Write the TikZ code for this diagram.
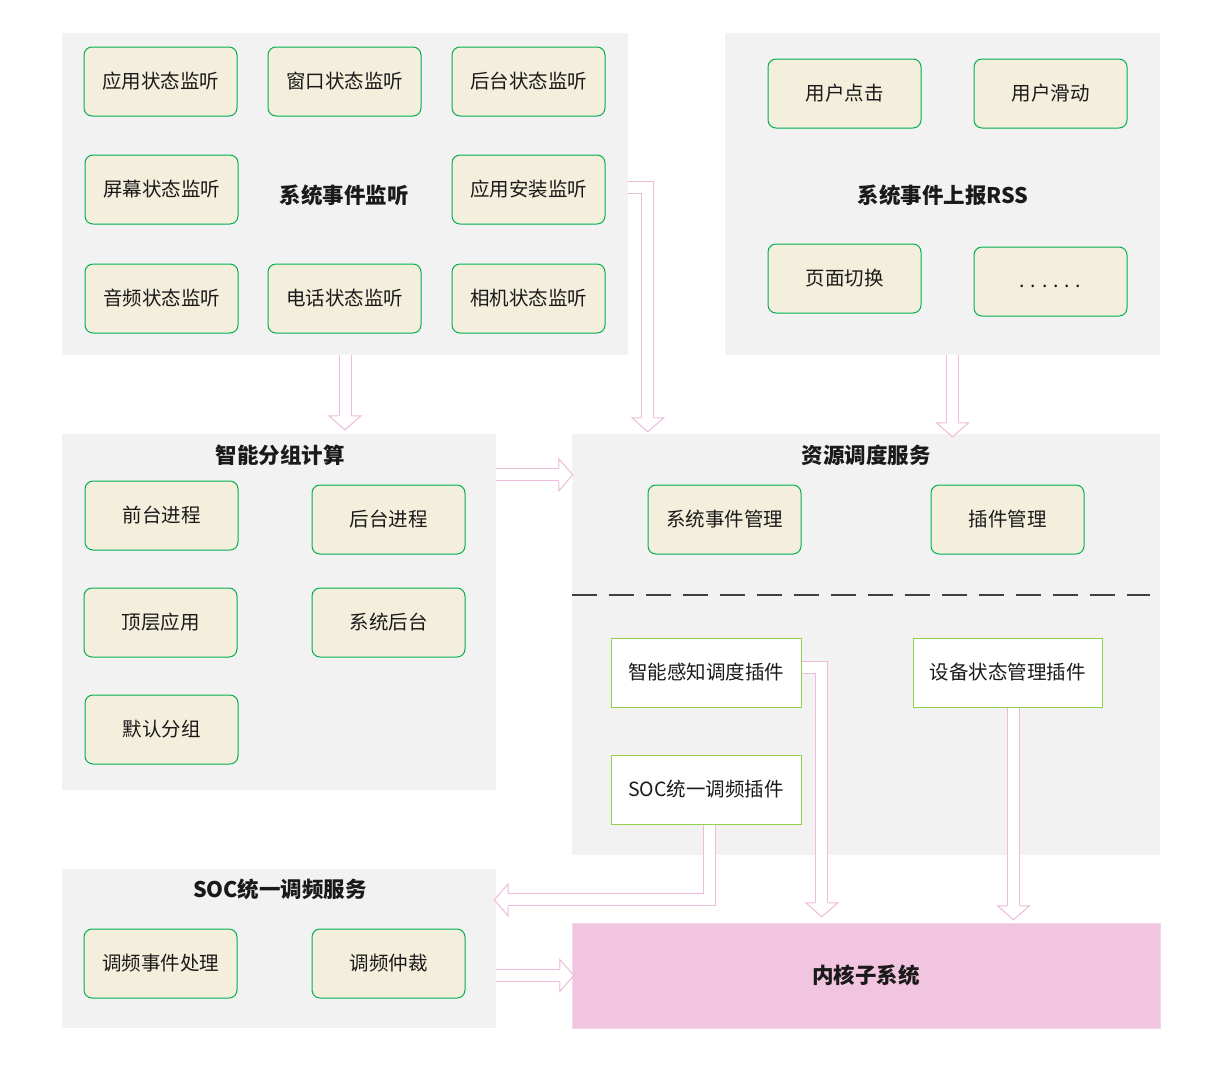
\documentclass[tikz,border=0pt]{standalone}
\usepackage{fontspec}
\setmainfont{Noto Sans CJK SC}
\usetikzlibrary{calc}
\definecolor{panelgray}{HTML}{F2F2F2}
\definecolor{cardfill}{HTML}{F4EEDC}
\definecolor{cardline}{HTML}{00B050}
\definecolor{plugline}{HTML}{92D050}
\definecolor{arrowpink}{HTML}{EEBBDA}
\definecolor{kernfill}{HTML}{F1C4DF}
\definecolor{dashgray}{HTML}{404040}
\definecolor{textdark}{HTML}{1A1A1A}
\newcommand{\hollowhead}[2]{%
  \path[draw=arrowpink, fill=white, line width=1pt]
    ($(#2)!14pt!(#1)$) coordinate (hb)
    ($(hb)!6.5pt!90:(#2)$) -- ($(hb)!16pt!90:(#2)$) -- (#2)
    -- ($(hb)!16pt!-90:(#2)$) -- ($(hb)!6.5pt!-90:(#2)$);
}
\begin{document}
\begin{tikzpicture}[x=1pt, y=-1pt, text=textdark,
  panel/.style={rectangle, fill=panelgray, inner sep=0pt},
  card/.style={rectangle, rounded corners=8pt, draw=cardline, fill=cardfill, line width=1pt,
    minimum width=153pt, minimum height=69pt, inner sep=0pt, font=\fontsize{19.5}{22}\selectfont},
  plugin/.style={rectangle, draw=plugline, fill=white, line width=1pt,
    minimum width=190pt, minimum height=69pt, inner sep=0pt, font=\fontsize{19.5}{22}\selectfont},
  heading/.style={font=\fontsize{21.5}{24}\selectfont\bfseries},
  shaft/.style={draw=arrowpink, line width=1pt, double=white, double distance=11pt}]
\useasboundingbox[fill=white] (0,0) rectangle (1212,1069);

\node[panel, minimum width=566pt, minimum height=322pt] (evt) at (345,194) {};
\node[panel, minimum width=435pt, minimum height=322pt] (rss) at (942.5,194) {};
\node[panel, minimum width=434pt, minimum height=356pt] (grp) at (279,612) {};
\node[panel, minimum width=588pt, minimum height=421pt] (res) at (866,644.5) {};
\node[panel, minimum width=434pt, minimum height=159pt] (soc) at (279,948.5) {};
\node[rectangle, fill=kernfill, draw=kernfill!70!white, minimum width=588pt, minimum height=105pt,
  heading] (kern) at (866,975.5) {内核子系统};

\node[heading] (evttitle) at (344,195) {系统事件监听};
\node[heading] (rsstitle) at (943,195) {系统事件上报RSS};
\node[heading] (grptitle) at (280,455) {智能分组计算};
\node[heading] (restitle) at (866,455) {资源调度服务};
\node[heading] (soctitle) at (280,889) {SOC统一调频服务};

\node[card] (app1) at (160.5,81.5) {应用状态监听};
\node[card] (app2) at (344.5,81.5) {窗口状态监听};
\node[card] (app3) at (528.5,81.5) {后台状态监听};
\node[card] (app4) at (161.5,189.5) {屏幕状态监听};
\node[card] (app5) at (528.5,189.5) {应用安装监听};
\node[card] (app6) at (161.5,298.5) {音频状态监听};
\node[card] (app7) at (344.5,298.5) {电话状态监听};
\node[card] (app8) at (528.5,298.5) {相机状态监听};

\node[card] (user1) at (844.5,93.5) {用户点击};
\node[card] (user2) at (1050.5,93.5) {用户滑动};
\node[card] (user3) at (844.5,278.5) {页面切换};
\node[card, text height=12pt, text depth=0pt] (user4) at (1050.5,281.5) {. . . . . .};

\node[card] (proc1) at (161.5,515.5) {前台进程};
\node[card] (proc2) at (388.5,519.5) {后台进程};
\node[card] (proc3) at (160.5,622.5) {顶层应用};
\node[card] (proc4) at (388.5,622.5) {系统后台};
\node[card] (proc5) at (161.5,729.5) {默认分组};

\node[card] (mgr1) at (724.5,519.5) {系统事件管理};
\node[card] (mgr2) at (1007.5,519.5) {插件管理};
\draw[dashgray, line width=2.2pt, dash pattern=on 25pt off 12pt]
  ($(res.north west)+(0,161)$) -- ($(res.north east)+(-10,161)$);
\node[plugin] (plug1) at (706,672.5) {智能感知调度插件};
\node[plugin, minimum width=189pt] (plug2) at (1007.5,672.5) {设备状态管理插件};
\node[plugin] (plug3) at (706,789.5) {SOC统一调频插件};

\node[card] (freq1) at (160.5,963.5) {调频事件处理};
\node[card] (freq2) at (388.5,963.5) {调频仲裁};

\coordinate (e1s) at (evt.south);
\coordinate (e1t) at ($(evt.south |- res.north)+(0,-4)$);
\draw[shaft] (e1s) -- ($(e1t)!14pt!(e1s)$);
\hollowhead{e1s}{e1t}

\coordinate (e2s) at ($(grp.north east)+(0,41)$);
\coordinate (e2t) at ($(e2s -| res.west)+(1,0)$);
\draw[shaft] (e2s) -- ($(e2t)!14pt!(e2s)$);
\hollowhead{e2s}{e2t}

\coordinate (e3s) at ($(evt.east |- app5.east)+(0,-2)$);
\coordinate (e3t) at ($(res.north west)+(76,-2)$);
\coordinate (e3c) at (e3s -| e3t);
\draw[shaft] (e3s) -- (e3c) -- ($(e3t)!14pt!(e3c)$);
\hollowhead{e3c}{e3t}

\coordinate (e4s) at ($(rss.south)+(10,0)$);
\coordinate (e4t) at ($(e4s |- res.north)+(0,3)$);
\draw[shaft] (e4s) -- ($(e4t)!14pt!(e4s)$);
\hollowhead{e4s}{e4t}

\coordinate (e5s) at ($(plug1.east)+(0,-5)$);
\coordinate (e5t) at ($(kern.north west)+(250,-6)$);
\coordinate (e5c) at (e5s -| e5t);
\draw[shaft] (e5s) -- (e5c) -- ($(e5t)!14pt!(e5c)$);
\hollowhead{e5c}{e5t}

\coordinate (e6s) at ($(plug3.south)+(3.5,0)$);
\coordinate (e6t) at ($(soc.north east)+(-2,31)$);
\coordinate (e6c) at (e6s |- e6t);
\draw[shaft] (e6s) -- (e6c) -- ($(e6t)!14pt!(e6c)$);
\hollowhead{e6c}{e6t}

\coordinate (e7s) at ($(plug2.south)+(6,0)$);
\coordinate (e7t) at ($(e7s |- kern.north)+(0,-3)$);
\draw[shaft] (e7s) -- ($(e7t)!14pt!(e7s)$);
\hollowhead{e7s}{e7t}

\coordinate (e8s) at (kern.west -| soc.east);
\coordinate (e8t) at ($(kern.west)+(2,0)$);
\draw[shaft] (e8s) -- ($(e8t)!14pt!(e8s)$);
\hollowhead{e8s}{e8t}
\end{tikzpicture}
\end{document}
